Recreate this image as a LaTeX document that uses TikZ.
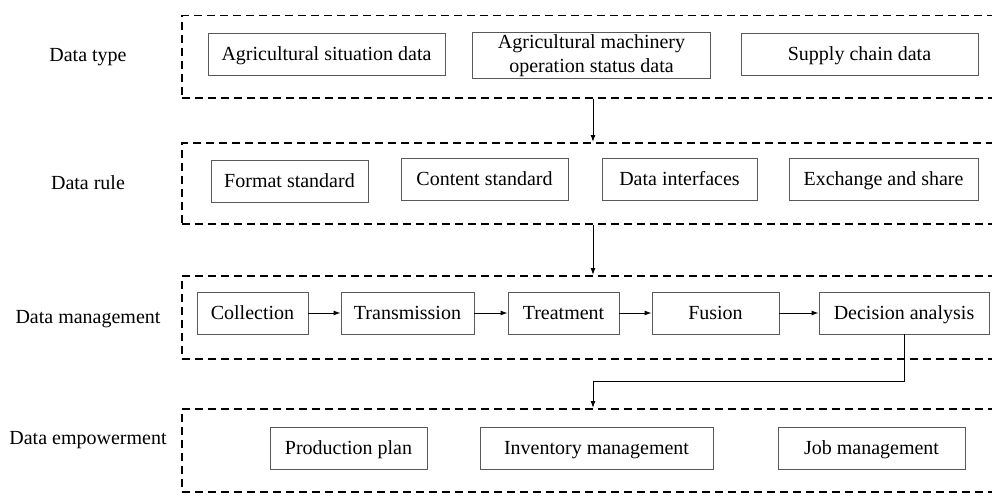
\documentclass[tikz,border=0pt]{standalone}
\usepackage{fontspec}
\setmainfont{Liberation Serif}
\usetikzlibrary{arrows.meta}
\begin{document}
\begin{tikzpicture}[x=1pt,y=-1pt,
  font=\fontsize{20}{24}\selectfont,
  layer/.style={draw=black, dash pattern=on 8pt off 5pt, line width=1.5pt,
    rectangle, anchor=north west, inner sep=0pt},
  boxbase/.style={draw=black!65, line width=0.9pt, rectangle, inner sep=0pt,
    minimum height=42pt, align=center},
  item/.style={boxbase, text height=14pt, text depth=2pt},
  tag/.style={inner sep=0pt},
  flow/.style={line width=1pt, -{Latex[length=7pt,width=5pt]}}]
\useasboundingbox (0,0) rectangle (992,495);
\clip (0,0) rectangle (992,495);

% dashed layers, open on the right side
\node[layer, minimum width=840pt, minimum height=82pt] (lay1) at (181,15) {};
\node[layer, minimum width=840pt, minimum height=81pt] (lay2) at (181,142) {};
\node[layer, minimum width=840pt, minimum height=83pt] (lay3) at (181,275) {};
\node[layer, minimum width=840pt, minimum height=83pt] (lay4) at (181,408) {};

% layer names
\node[tag] (t1) at (88,57) {Data type};
\node[tag] (t2) at (88,183) {Data rule};
\node[tag] (t3) at (88,319) {Data management};
\node[tag] (t4) at (88,440) {Data empowerment};

% data type
\node[item, minimum width=237pt] (a1) at (326.5,54) {Agricultural situation data};
\node[boxbase, minimum width=238pt, minimum height=46pt] (a2) at (591.5,55.5)
  {Agricultural machinery\\operation status data};
\node[item, minimum width=237pt] (a3) at (859.5,54) {Supply chain data};

% data rule
\node[item, minimum width=157pt] (r1) at (289.5,181) {Format standard};
\node[item, minimum width=167pt] (r2) at (484.5,179) {Content standard};
\node[item, minimum width=155pt] (r3) at (679.5,179) {Data interfaces};
\node[item, minimum width=189pt] (r4) at (883.5,179) {Exchange and share};

% data management
\node[item, minimum width=111pt] (m1) at (252.5,313) {Collection};
\node[item, minimum width=133pt] (m2) at (407.5,313) {Transmission};
\node[item, minimum width=111pt] (m3) at (563.5,313) {Treatment};
\node[item, minimum width=127pt] (m4) at (715.5,313) {Fusion};
\node[item, minimum width=170pt] (m5) at (904,313) {Decision analysis};

% data empowerment
\node[item, minimum width=157pt] (e1) at (348.5,448) {Production plan};
\node[item, minimum width=233pt] (e2) at (596.5,448) {Inventory management};
\node[item, minimum width=187pt] (e3) at (871.5,448) {Job management};

% connectors
\coordinate (spine) at (593,0);
\coordinate (bend) at (0,381);
\draw[flow] (lay1.south -| spine) -- (lay2.north -| spine);
\draw[flow] (lay2.south -| spine) -- (lay3.north -| spine);
\draw[flow] (m1) -- (m2);
\draw[flow] (m2) -- (m3);
\draw[flow] (m3) -- (m4);
\draw[flow] (m4) -- (m5);
\draw[flow] (m5.south) -- (m5.south |- bend) -- (spine |- bend) -- (lay4.north -| spine);
\end{tikzpicture}
\end{document}
